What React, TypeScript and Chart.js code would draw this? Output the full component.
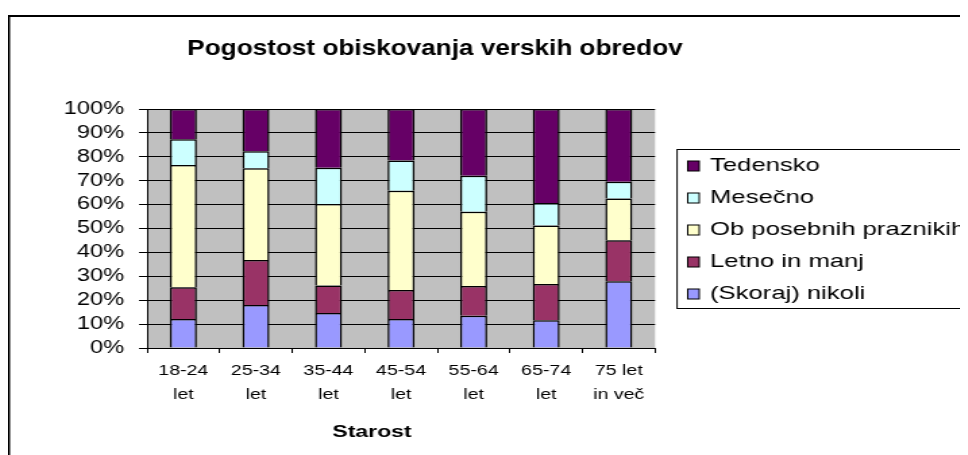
import React, { useEffect, useRef } from "react";
import { Chart, registerables } from "chart.js";

Chart.register(...registerables);

const categories = [
  ["18-24", "let"],
  ["25-34", "let"],
  ["35-44", "let"],
  ["45-54", "let"],
  ["55-64", "let"],
  ["65-74", "let"],
  ["75 let", "in več"],
];
const skorajNikoli = [12.1, 18.0, 14.6, 12.1, 13.5, 11.6, 27.9];
const letnoInManj = [13.3, 18.8, 11.6, 12.2, 12.4, 15.2, 17.2];
const obPosebnih = [51.2, 38.4, 34.1, 41.5, 31.1, 24.5, 17.5];
const mesecno = [10.7, 7.1, 15.1, 12.7, 15.1, 9.4, 7.0];
const tedensko = [12.7, 17.7, 24.6, 21.5, 27.9, 39.3, 30.4];

const seriesNames = ["(Skoraj) nikoli", "Letno in manj", "Ob posebnih praznikih", "Mesečno", "Tedensko"];
const seriesColors = ["#9999FF", "#993366", "#FFFFCC", "#CCFFFF", "#660066"];

const titleText = "Pogostost obiskovanja verskih obredov";
const xTitleText = "Starost";

const FONT = '"Liberation Sans", Arial, sans-serif';
const STRETCH = 1.35;
const CW = 720;
const CH = 447;

const decorPlugin = {
  id: "decor",
  beforeDraw(chart: any) {
    const { ctx, chartArea } = chart;
    ctx.save();
    ctx.fillStyle = "#FFFFFF";
    ctx.fillRect(0, 0, chart.width, chart.height);
    ctx.fillStyle = "#C0C0C0";
    ctx.fillRect(chartArea.left, chartArea.top, chartArea.right - chartArea.left, chartArea.bottom - chartArea.top);
    ctx.restore();
  },
  afterDraw(chart: any) {
    const { ctx } = chart;
    ctx.save();
    // outer chart border (only left and top visible)
    ctx.fillStyle = "#000";
    ctx.fillRect(0, 7, 1.5, chart.height);
    ctx.fillRect(0, 7, chart.width, 2);

    // title (slightly condensed to offset the horizontal stretch)
    ctx.save();
    ctx.translate(316.3, 47);
    ctx.scale(0.88, 1);
    ctx.fillStyle = "#000";
    ctx.font = `bold 22px ${FONT}`;
    ctx.textAlign = "center";
    ctx.textBaseline = "alphabetic";
    ctx.fillText(titleText, 0, 0);
    ctx.restore();

    // x axis title
    ctx.fillStyle = "#000";
    ctx.textAlign = "center";
    ctx.textBaseline = "alphabetic";
    ctx.font = `bold 17px ${FONT}`;
    ctx.fillText(xTitleText, 269.6, 429);

    // legend
    const lx = 495.6;
    const ly = 141.5;
    ctx.strokeStyle = "#000";
    ctx.lineWidth = 1;
    ctx.strokeRect(lx, ly, 400, 159);
    ctx.font = `19px ${FONT}`;
    ctx.textAlign = "left";
    ctx.textBaseline = "middle";
    const ds = chart.data.datasets;
    for (let i = 0; i < ds.length; i++) {
      const d = ds[ds.length - 1 - i];
      const cy = 158 + 32 * i;
      ctx.fillStyle = d.backgroundColor;
      ctx.fillRect(503.5, cy - 5, 8.5, 10);
      ctx.strokeStyle = "#000";
      ctx.lineWidth = 1;
      ctx.strokeRect(503.5, cy - 5, 8.5, 10);
      ctx.fillStyle = "#000";
      ctx.fillText(d.label, 520, cy);
    }
    ctx.restore();
  },
};

export default function App() {
  const canvasRef = useRef<HTMLCanvasElement | null>(null);

  useEffect(() => {
    const canvas = canvasRef.current;
    if (!canvas) return;
    const values = [skorajNikoli, letnoInManj, obPosebnih, mesecno, tedensko];
    const chart = new Chart(canvas, {
      type: "bar",
      data: {
        labels: categories,
        datasets: values.map((v, i) => ({
          label: seriesNames[i],
          data: v,
          backgroundColor: seriesColors[i],
          borderColor: "#000000",
          borderWidth: 1.5,
          barPercentage: 0.372,
          categoryPercentage: 1,
        })),
      },
      options: {
        responsive: false,
        devicePixelRatio: 1,
        animation: false,
        layout: { padding: { top: 101, left: 0, right: CW - 479.3, bottom: 0 } },
        plugins: {
          legend: { display: false },
          title: { display: false },
          tooltip: { enabled: false },
        },
        scales: {
          x: {
            stacked: true,
            grid: { display: true, drawOnChartArea: false, drawTicks: true, tickLength: 5, color: "#000", lineWidth: 1 },
            border: { display: true, color: "#000", width: 1 },
            ticks: {
              color: "#000",
              font: { family: FONT, size: 14.5, lineHeight: 24 / 14.5 },
              padding: 6,
              maxRotation: 0,
              autoSkip: false,
            },
            afterFit: (s: any) => {
              s.height = CH - 340;
            },
          },
          y: {
            stacked: true,
            min: 0,
            max: 100,
            grid: { color: "#000", lineWidth: 1, tickLength: 6, drawTicks: true },
            border: { display: true, color: "#000", width: 1 },
            ticks: {
              stepSize: 10,
              autoSkip: false,
              color: "#000",
              font: { family: FONT, size: 17.5 },
              padding: 11,
              callback: (v: any) => `${v}%`,
            },
            afterFit: (s: any) => {
              s.width = 103;
            },
          },
        },
      },
      plugins: [decorPlugin],
    });
    return () => chart.destroy();
  }, []);

  return (
    <div style={{ width: 960, height: CH, overflow: "hidden" }}>
      <div style={{ width: CW, height: CH, transform: `scaleX(${STRETCH})`, transformOrigin: "0 0" }}>
        <canvas
          ref={canvasRef}
          width={CW}
          height={CH}
          style={{ width: `${CW}px`, height: `${CH}px`, display: "block" }}
        />
      </div>
    </div>
  );
}
